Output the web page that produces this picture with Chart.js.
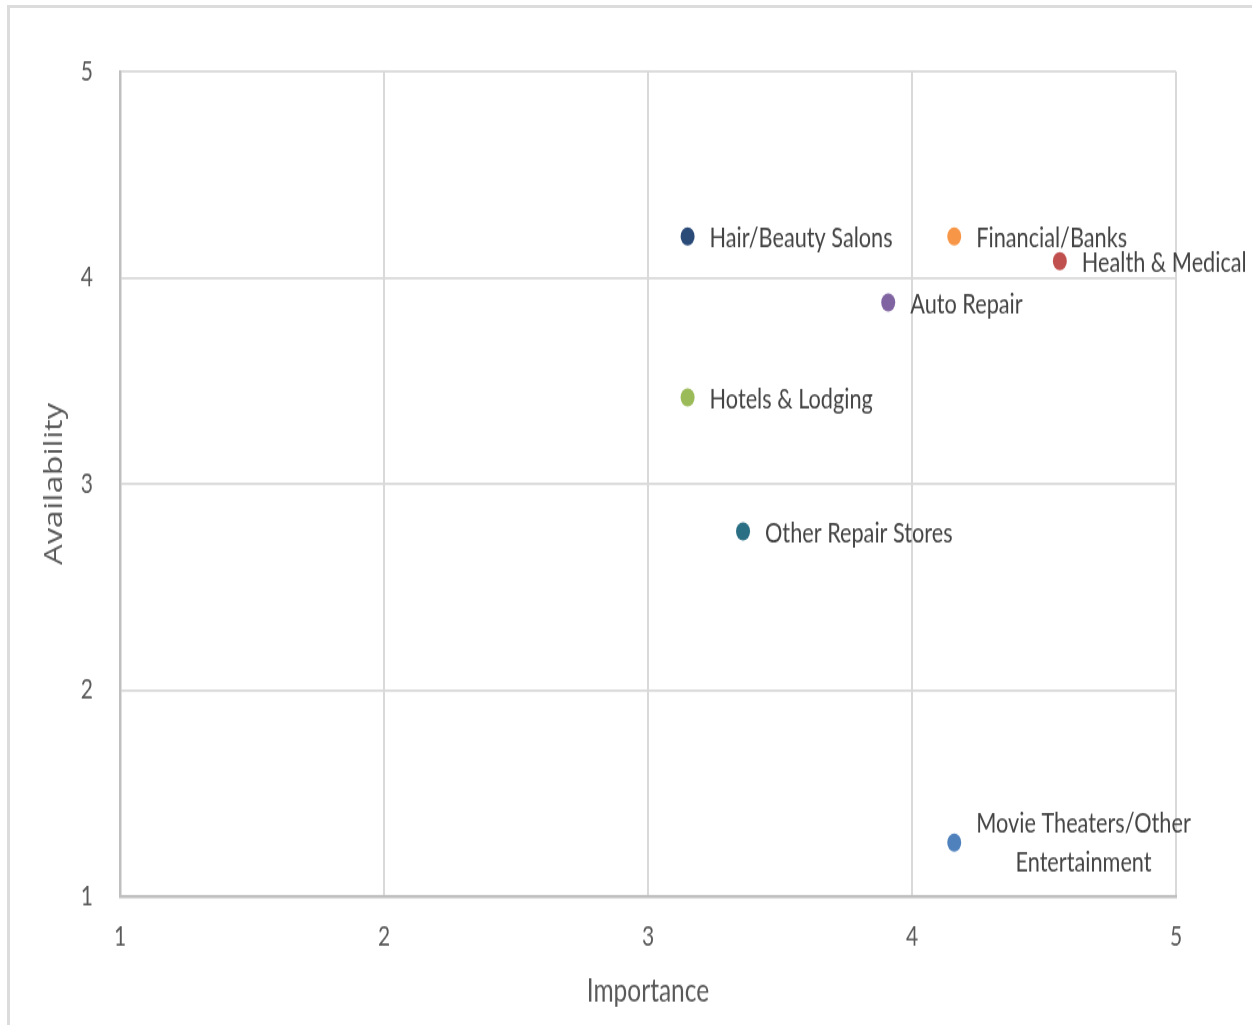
<!DOCTYPE html>
<html>
<head>
<meta charset="utf-8">
<script src="https://cdn.jsdelivr.net/npm/chart.js@4.4.1/dist/chart.umd.min.js"></script>
<style>
  html, body { margin: 0; padding: 0; background: #fff; overflow: hidden; }
  #page { position: relative; width: 1252px; height: 1025px; overflow: hidden; }
  #frame {
    position: absolute; left: 7px; top: 5px; right: -20px; bottom: -20px;
    border-left: 3px solid #dcdcdc; border-top: 3px solid #dcdcdc;
  }
  #wrap {
    position: absolute; left: 0; top: 0; width: 1252px; height: 788px;
    transform: scaleY(1.3008); transform-origin: 0 0;
  }
  canvas { display: block; }
</style>
</head>
<body>
<div id="page">
  <div id="frame"></div>
  <div id="wrap"><canvas id="chart" width="1252" height="788"></canvas></div>
</div>
<script>
// Service categories, rated on importance vs. availability
const categories = [
    'Hair/Beauty Salons',
    'Financial/Banks',
    'Health & Medical',
    'Auto Repair',
    'Hotels & Lodging',
    'Other Repair Stores',
    'Movie Theaters/Other\nEntertainment'
];
const importance = [3.15, 4.16, 4.56, 3.91, 3.15, 3.36, 4.16];
const availability = [4.20, 4.20, 4.08, 3.88, 3.42, 2.77, 1.26];
const pointColors = ['#2a4a78', '#f79646', '#c0504d', '#8064a2', '#9bbb59', '#2b6f84', '#4f81bd'];
const axisTicks = [1, 2, 3, 4, 5];

const labelFont = '21.7px Lato';
const textColor = '#595959';

// Write each category name to the right of its point
const pointLabels = {
    id: 'pointLabels',
    afterDatasetsDraw(chart) {
        const ctx = chart.ctx;
        ctx.save();
        ctx.font = labelFont;
        ctx.fillStyle = '#444';
        ctx.textBaseline = 'middle';
        chart.data.datasets.forEach((ds, i) => {
            const el = chart.getDatasetMeta(i).data[0];
            const lines = ds.label.split('\n');
            const lineH = 29.5;
            const left = el.x + 22;
            if (lines.length === 1) {
                ctx.textAlign = 'left';
                ctx.fillText(lines[0], left, el.y + 1.5);
            } else {
                const widths = lines.map(l => ctx.measureText(l).width);
                const center = left + Math.max(...widths) / 2;
                ctx.textAlign = 'center';
                lines.forEach((l, j) => {
                    ctx.fillText(l, center, el.y + (j - (lines.length - 1) / 2) * lineH);
                });
            }
        });
        ctx.restore();
    }
};

const datasets = categories.map((name, i) => ({
    label: name,
    data: [{ x: importance[i], y: availability[i] }],
    backgroundColor: pointColors[i],
    borderWidth: 0,
    pointRadius: 7,
    pointHoverRadius: 7
}));

new Chart(document.getElementById('chart'), {
    type: 'scatter',
    data: { datasets: datasets },
    plugins: [pointLabels],
    options: {
        responsive: false,
        animation: false,
        devicePixelRatio: 1,
        layout: { padding: { top: 55, right: 76, left: 0, bottom: 0 } },
        plugins: {
            legend: { display: false },
            tooltip: { enabled: false }
        },
        scales: {
            x: {
                type: 'linear',
                min: 1,
                max: 5,
                afterFit(scale) { scale.height = 99; },
                afterBuildTicks(scale) { scale.ticks = axisTicks.map(v => ({ value: v })); },
                grid: { color: '#d9d9d9', lineWidth: 2, drawTicks: false },
                border: { color: '#bfbfbf', width: 2.5 },
                ticks: { padding: 19, color: textColor, font: { family: 'Lato', size: 21 } },
                title: {
                    display: true,
                    text: 'Importance',
                    color: textColor,
                    font: { family: 'Lato', size: 24.5 },
                    padding: { top: 0, bottom: 11 }
                }
            },
            y: {
                type: 'linear',
                min: 1,
                max: 5,
                afterFit(scale) { scale.width = 120; },
                afterBuildTicks(scale) { scale.ticks = axisTicks.map(v => ({ value: v })); },
                grid: { color: '#d9d9d9', lineWidth: 1.7, drawTicks: false },
                border: { color: '#bfbfbf', width: 2.5 },
                ticks: { padding: 27, color: textColor, font: { family: 'Lato', size: 21 } },
                title: {
                    display: true,
                    text: 'Availability',
                    color: textColor,
                    font: { family: 'Open Sans', size: 25 },
                    padding: { top: 40, bottom: 0 }
                }
            }
        }
    }
});
</script>
</body>
</html>
